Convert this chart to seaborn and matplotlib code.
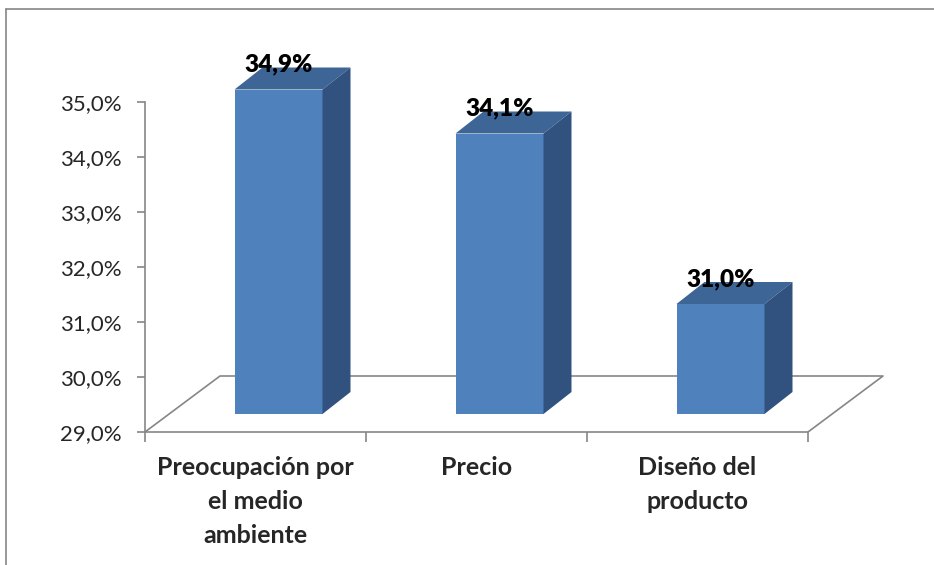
import numpy as np
import pandas as pd
import matplotlib
matplotlib.use("Agg")
import matplotlib.pyplot as plt
from matplotlib.patches import Polygon
from matplotlib.lines import Line2D
import seaborn as sns

# data
categories = ["Preocupación por\nel medio\nambiente", "Precio", "Diseño del\nproducto"]
values = [34.9, 34.1, 31.0]
labels = ["34,9%", "34,1%", "31,0%"]
y_ticks = [29, 30, 31, 32, 33, 34, 35]

df = pd.DataFrame({"categoria": categories, "valor": values})

sns.set_style("white")
plt.rcParams["font.family"] = ["Lato", "DejaVu Sans"]

W, H = 934, 565
fig = plt.figure(figsize=(W / 100, H / 100), dpi=100)

# axes placed in pixels: front axis x 145..885, y 432 (29%) .. 30 (top)
px_l, px_r, px_b, px_t = 145, 885, 432, 30
ax = fig.add_axes([px_l / W, (H - px_b) / H, (px_r - px_l) / W, (px_b - px_t) / H])
cat_px = 221.0
pct_px = 55.0

# 3d offsets (data units)
bar_w = 88 / cat_px
off_x, off_y = 23 / cat_px, 18 / pct_px      # bar front face pushed back
dep_x, dep_y = 28 / cat_px, 22 / pct_px      # bar depth
floor_x, floor_y = 75 / cat_px, 56 / pct_px  # floor depth

front_col = "#4F81BD"
top_col = "#3D6595"
side_col = "#31527F"
grid_col = "#868686"

sns.barplot(data=df, x="categoria", y="valor", color=front_col, width=bar_w,
            saturation=1, ax=ax, zorder=3)

base = 29 + off_y
for i, (p, v) in enumerate(zip(ax.patches, values)):
    x0 = i + off_x - bar_w / 2
    x1 = x0 + bar_w
    top = v + off_y
    p.set_x(x0)
    p.set_width(bar_w)
    p.set_y(base)
    p.set_height(top - base)
    p.set_edgecolor("none")
    ax.add_patch(Polygon([(x0, top), (x0 + dep_x, top + dep_y),
                          (x1 + dep_x, top + dep_y), (x1, top)],
                         closed=True, facecolor=top_col, edgecolor="none", zorder=3))
    ax.add_patch(Polygon([(x1, base), (x1, top), (x1 + dep_x, top + dep_y),
                          (x1 + dep_x, base + dep_y)],
                         closed=True, facecolor=side_col, edgecolor="none", zorder=3))
    ax.annotate(labels[i], (i + off_x, top), xytext=(0, 10), textcoords="offset points",
                ha="center", va="bottom", fontsize=17.5, fontweight="heavy",
                color="black", zorder=5)

n = len(categories)
ax.set_xlim(-0.5, -0.5 + (px_r - px_l) / cat_px)
ax.set_ylim(29, 29 + (px_b - px_t) / pct_px)

# floor
fx = [-0.5, -0.5 + floor_x, n - 0.5 + floor_x, n - 0.5]
fy = [29, 29 + floor_y, 29 + floor_y, 29]
ax.add_line(Line2D(fx, fy, color=grid_col, lw=1.2, zorder=1))

# axes styling
for s in ["top", "right"]:
    ax.spines[s].set_visible(False)
ax.spines["left"].set_bounds(29, 35)
ax.spines["bottom"].set_bounds(-0.5, n - 0.5)
for s in ["left", "bottom"]:
    ax.spines[s].set_color(grid_col)
    ax.spines[s].set_linewidth(1.2)

ax.set_yticks(y_ticks)
ax.set_yticklabels([f"{t:.1f}%".replace(".", ",") for t in y_ticks], fontsize=16)
ax.tick_params(axis="y", left=True, direction="out", length=6, width=1.2,
               color=grid_col, pad=11)

ax.set_xticks(np.arange(n + 1) - 0.5)
ax.set_xticklabels([])
ax.tick_params(axis="x", which="major", bottom=True, direction="out", length=7,
               width=1.2, color=grid_col)
ax.set_xticks(np.arange(n), minor=True)
ax.set_xticklabels(categories, minor=True, fontsize=18, fontweight="bold",
                   linespacing=1.6, va="top")
ax.tick_params(axis="x", which="minor", bottom=True, length=0, pad=17)
ax.set_xlabel("")
ax.set_ylabel("")

# chart frame
fig.add_artist(Line2D([6 / W, 6 / W], [0, 1 - 9 / H], transform=fig.transFigure,
                      color=grid_col, lw=1.2))
fig.add_artist(Line2D([6 / W, 1], [1 - 9 / H, 1 - 9 / H], transform=fig.transFigure,
                      color=grid_col, lw=1.2))

fig.savefig("out.png", dpi=100)
